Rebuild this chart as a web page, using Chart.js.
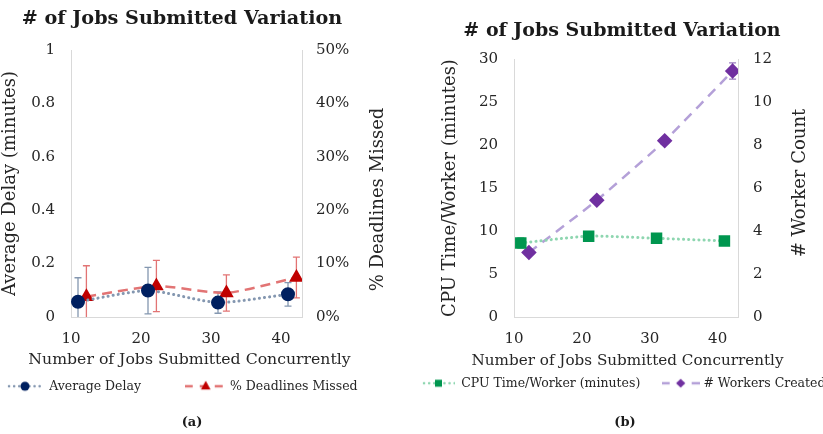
<!DOCTYPE html>
<html>
<head>
<meta charset="utf-8">
<script src="https://cdn.jsdelivr.net/npm/chart.js@4.4.0/dist/chart.umd.min.js"></script>
<style>
  html, body { margin: 0; padding: 0; background: #fff; }
  body { width: 823px; height: 434px; overflow: hidden; position: relative; font-family: 'DejaVu Serif', serif; color: #1a1a1a; }
  .box { position: absolute; top: 0; height: 434px; }
  .label { position: absolute; transform: translate(-50%, -50%); white-space: nowrap; font-weight: bold; line-height: 1; }
</style>
</head>
<body>
<div class="box" style="left:0;width:410px"><canvas id="chartA"></canvas></div>
<div class="box" style="left:418px;width:440px"><canvas id="chartB"></canvas></div>
<div class="label" style="left:182px;top:18px;font-size:19.2px"># of Jobs Submitted Variation</div>
<div class="label" style="left:622px;top:29px;font-size:19px"># of Jobs Submitted Variation</div>
<div class="label" style="left:192px;top:421px;font-size:13px">(a)</div>
<div class="label" style="left:625px;top:421px;font-size:13px">(b)</div>
<script>
'use strict';

// x positions (the two series of each panel are slightly offset)
const jobsA = [11, 21, 31, 41];
const jobsB = [12.2, 22.2, 32.2, 42.2];

// panel (a)
const avgDelay        = [0.057, 0.099, 0.054, 0.085];
const avgDelayErr     = [0.09, 0.087, 0.04, 0.044];
const missedPct       = [3.8, 5.8, 4.5, 7.4];
const missedPctErr    = [5.8, 4.8, 3.4, 3.8];

// panel (b)
const cpuTime         = [8.6, 9.4, 9.15, 8.85];
const cpuTimeErr      = [0.6, 0.5, 0.3, 0.25];
const workers         = [3.0, 5.43, 8.2, 11.44];
const workersErr      = [0.12, 0.12, 0.15, 0.38];

// tick labels
const xTicks      = [10, 20, 30, 40];
const delayTicks  = [0, 0.2, 0.4, 0.6, 0.8, 1];
const pctTicks    = [0, 10, 20, 30, 40, 50];
const cpuTicks    = [0, 5, 10, 15, 20, 25, 30];
const workerTicks = [0, 2, 4, 6, 8, 10, 12];

const FONT = 'DejaVu Serif';
const TEXT = '#262626';
const AXIS = '#d9d9d9';

const points = (xs, ys) => xs.map((x, i) => ({ x, y: ys[i] }));
const fixTicks = list => s => { s.ticks = list.map(value => ({ value })); };

// vertical error bars, drawn under the lines and markers
const errorBars = {
  id: 'errorBars',
  beforeDatasetsDraw(chart) {
    const { ctx, chartArea } = chart;
    ctx.save();
    ctx.beginPath();
    ctx.rect(chartArea.left, chartArea.top, chartArea.width, chartArea.height);
    ctx.clip();
    chart.data.datasets.forEach(ds => {
      if (!ds.errors) return;
      const xs = chart.scales.x;
      const ys = chart.scales[ds.yAxisID];
      ctx.strokeStyle = ds.errorColor;
      ctx.lineWidth = 1.3;
      ds.data.forEach((p, j) => {
        const px = xs.getPixelForValue(p.x);
        const top = ys.getPixelForValue(p.y + ds.errors[j]);
        const bot = ys.getPixelForValue(p.y - ds.errors[j]);
        ctx.beginPath();
        ctx.moveTo(px, top); ctx.lineTo(px, bot);
        ctx.moveTo(px - 3.5, top); ctx.lineTo(px + 3.5, top);
        ctx.moveTo(px - 3.5, bot); ctx.lineTo(px + 3.5, bot);
        ctx.stroke();
      });
    });
    ctx.restore();
  }
};

// x title (allowed to run wider than the plot) and a right axis title
// that reads bottom-to-top like the left one
const extraTitles = {
  id: 'extraTitles',
  afterDraw(chart, args, opts) {
    const { ctx, chartArea, scales } = chart;
    ctx.save();
    ctx.fillStyle = TEXT;
    ctx.textAlign = 'center';
    ctx.textBaseline = 'middle';

    ctx.font = opts.xFont;
    ctx.fillText(opts.xText, (chartArea.left + chartArea.right) / 2 + opts.xShift, scales.x.top + opts.xOffset);

    const s = scales.y1;
    ctx.font = opts.rFont;
    ctx.translate(s.left + opts.rOffset, (s.top + s.bottom) / 2 + opts.rShift);
    ctx.rotate(-Math.PI / 2);
    ctx.fillText(opts.rText, 0, 0);
    ctx.restore();
  }
};

function legendIcon(w, line, dash, marker, color, r) {
  const c = document.createElement('canvas');
  c.width = w; c.height = 14;
  const g = c.getContext('2d');
  g.strokeStyle = line;
  g.lineWidth = 2.5;
  g.lineCap = dash[0] < 1 ? 'round' : 'butt';
  g.setLineDash(dash);
  g.beginPath(); g.moveTo(dash[0] < 1 ? 2 : 0, 7); g.lineTo(w, 7); g.stroke();
  g.setLineDash([]);
  g.fillStyle = color;
  const cx = w / 2, cy = 7;
  g.beginPath();
  if (marker === 'circle') g.arc(cx, cy, r, 0, Math.PI * 2);
  if (marker === 'triangle') { g.moveTo(cx, cy - r); g.lineTo(cx + r * 0.87, cy + r * 0.6); g.lineTo(cx - r * 0.87, cy + r * 0.6); }
  if (marker === 'rect') g.rect(cx - r, cy - r, 2 * r, 2 * r);
  if (marker === 'diamond') { g.moveTo(cx, cy - r); g.lineTo(cx + r, cy); g.lineTo(cx, cy + r); g.lineTo(cx - r, cy); }
  g.fill();
  return c;
}

function legendOpts(icons, gaps, boxW, pad) {
  return {
    position: 'bottom',
    align: 'start',
    labels: {
      usePointStyle: true,
      pointStyleWidth: boxW,
      padding: pad,
      color: TEXT,
      font: { family: FONT, size: 12.5 },
      generateLabels: chart => chart.data.datasets.map((ds, i) => ({
        text: ds.label + ' '.repeat(gaps[i]),
        pointStyle: icons[i],
        fillStyle: 'transparent',
        strokeStyle: 'transparent',
        lineWidth: 0,
        hidden: false,
        datasetIndex: i,
        fontColor: TEXT
      }))
    }
  };
}

function xScale() {
  return {
    type: 'linear', min: 10, max: 43,
    afterBuildTicks: fixTicks(xTicks),
    afterFit: s => { s.height = 56; },
    grid: { display: false, drawTicks: false },
    border: { color: AXIS },
    ticks: { color: TEXT, font: { family: FONT, size: 15 }, padding: 13 }
  };
}

function yScale(pos, list, width, pad, extra) {
  return Object.assign({
    position: pos, min: list[0], max: list[list.length - 1],
    afterBuildTicks: fixTicks(list),
    afterFit: s => { s.width = width; },
    grid: { display: false, drawTicks: false },
    border: { color: AXIS },
    ticks: { color: TEXT, font: { family: FONT, size: 15 }, padding: pad, callback: v => String(v) }
  }, extra);
}

new Chart(document.getElementById('chartA'), {
  type: 'line',
  data: {
    datasets: [{
      label: 'Average Delay',
      data: points(jobsA, avgDelay),
      errors: avgDelayErr,
      errorColor: '#8497b0',
      yAxisID: 'y',
      borderColor: '#8497b0',
      borderWidth: 3,
      borderDash: [0.1, 5],
      borderCapStyle: 'round',
      tension: 0.2,
      pointStyle: 'circle',
      pointRadius: 5.5,
      pointBackgroundColor: '#002060',
      pointBorderColor: '#002060'
    }, {
      label: '% Deadlines Missed',
      data: points(jobsB, missedPct),
      errors: missedPctErr,
      errorColor: '#e27474',
      yAxisID: 'y1',
      borderColor: '#e27474',
      borderWidth: 2.5,
      borderDash: [10, 6],
      tension: 0.2,
      pointStyle: 'triangle',
      pointRadius: 6,
      pointBackgroundColor: '#c00000',
      pointBorderColor: '#c00000'
    }]
  },
  options: {
    responsive: true,
    maintainAspectRatio: false,
    animation: false,
    layout: { padding: { top: 50, bottom: 31.5, left: 0, right: 0 } },
    plugins: {
      legend: legendOpts([
        legendIcon(36, '#8497b0', [0.1, 5], 'circle', '#002060', 4.5),
        legendIcon(42, '#e27474', [8, 7], 'triangle', '#c00000', 5.5)
      ], [10, 0], 36, 7),
      tooltip: { enabled: false },
      extraTitles: {
        xText: 'Number of Jobs Submitted Concurrently', xFont: '15.7px "DejaVu Serif"', xShift: 3, xOffset: 43,
        rText: '% Deadlines Missed', rFont: '18px "DejaVu Serif"', rOffset: 76, rShift: 16
      }
    },
    scales: {
      x: xScale(),
      y: yScale('left', delayTicks, 71, 16, {
        title: { display: true, text: 'Average Delay (minutes)', color: TEXT,
                 font: { family: FONT, size: 18 }, padding: { top: 0, bottom: 0 } }
      }),
      y1: yScale('right', pctTicks, 108, 14, {
        ticks: { color: TEXT, font: { family: FONT, size: 15 }, padding: 14, callback: v => v + '%' }
      })
    }
  },
  plugins: [errorBars, extraTitles]
});

new Chart(document.getElementById('chartB'), {
  type: 'line',
  data: {
    datasets: [{
      label: 'CPU Time/Worker (minutes)',
      data: points(jobsA, cpuTime),
      errors: cpuTimeErr,
      errorColor: '#5fbf8c',
      yAxisID: 'y',
      borderColor: '#8ed6b0',
      borderWidth: 3,
      borderDash: [0.1, 5],
      borderCapStyle: 'round',
      tension: 0.2,
      pointStyle: 'rect',
      pointRadius: 6,
      pointBackgroundColor: '#00964f',
      pointBorderColor: '#00964f'
    }, {
      label: '# Workers Created',
      data: points(jobsB, workers),
      errors: workersErr,
      errorColor: '#9a7cc0',
      yAxisID: 'y1',
      borderColor: '#b4a0d8',
      borderWidth: 2.5,
      borderDash: [10, 7],
      tension: 0.2,
      pointStyle: 'rectRot',
      pointRadius: 6,
      pointBackgroundColor: '#7030a0',
      pointBorderColor: '#7030a0'
    }]
  },
  options: {
    responsive: true,
    maintainAspectRatio: false,
    animation: false,
    layout: { padding: { top: 59, bottom: 34.5, left: 0, right: 0 } },
    plugins: {
      legend: legendOpts([
        legendIcon(33, '#8ed6b0', [0.1, 5], 'rect', '#00964f', 3.5),
        legendIcon(38, '#b4a0d8', [8, 7], 'diamond', '#7030a0', 4.5)
      ], [5, 0], 33, 4),
      tooltip: { enabled: false },
      extraTitles: {
        xText: 'Number of Jobs Submitted Concurrently', xFont: '15.2px "DejaVu Serif"', xShift: 1.5, xOffset: 44,
        rText: '# Worker Count', rFont: '18px "DejaVu Serif"', rOffset: 62, rShift: -5
      }
    },
    scales: {
      x: xScale(),
      y: yScale('left', cpuTicks, 96, 16, {
        title: { display: true, text: 'CPU Time/Worker (minutes)', color: TEXT,
                 font: { family: FONT, size: 18 }, padding: { top: 22, bottom: 0 } }
      }),
      y1: yScale('right', workerTicks, 120, 15)
    }
  },
  plugins: [errorBars, extraTitles]
});
</script>
</body>
</html>
